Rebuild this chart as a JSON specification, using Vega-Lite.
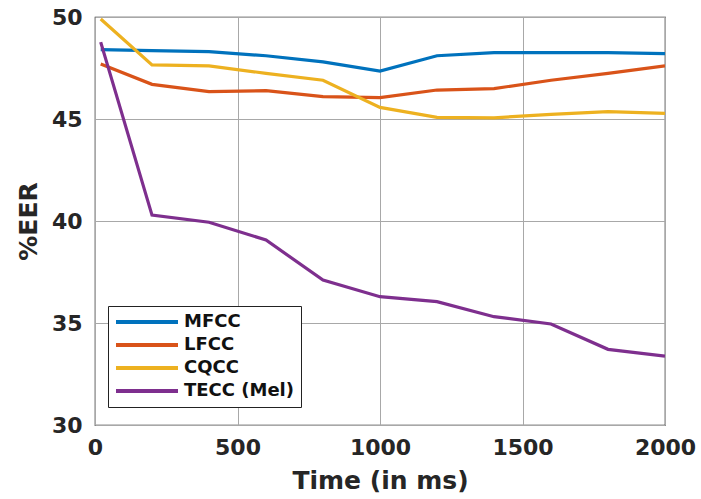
{
  "$schema": "https://vega.github.io/schema/vega-lite/v6.json",
  "autosize": "none",
  "width": 570,
  "height": 408,
  "padding": {"left": 95, "top": 17, "right": 36, "bottom": 74},
  "background": "white",
  "config": {
    "font": "DejaVu Sans",
    "view": {"stroke": "#222222", "strokeWidth": 1.2}
  },
  "data": {
    "values": [
      {"t": 20, "s": "MFCC", "eer": 48.4},
      {"t": 200, "s": "MFCC", "eer": 48.35},
      {"t": 400, "s": "MFCC", "eer": 48.3},
      {"t": 600, "s": "MFCC", "eer": 48.1},
      {"t": 800, "s": "MFCC", "eer": 47.8},
      {"t": 1000, "s": "MFCC", "eer": 47.35},
      {"t": 1200, "s": "MFCC", "eer": 48.1},
      {"t": 1400, "s": "MFCC", "eer": 48.25},
      {"t": 1600, "s": "MFCC", "eer": 48.25},
      {"t": 1800, "s": "MFCC", "eer": 48.25},
      {"t": 2000, "s": "MFCC", "eer": 48.2},
      {"t": 20, "s": "LFCC", "eer": 47.7},
      {"t": 200, "s": "LFCC", "eer": 46.7},
      {"t": 400, "s": "LFCC", "eer": 46.34},
      {"t": 600, "s": "LFCC", "eer": 46.39},
      {"t": 800, "s": "LFCC", "eer": 46.1},
      {"t": 1000, "s": "LFCC", "eer": 46.05},
      {"t": 1200, "s": "LFCC", "eer": 46.42},
      {"t": 1400, "s": "LFCC", "eer": 46.49},
      {"t": 1600, "s": "LFCC", "eer": 46.9},
      {"t": 1800, "s": "LFCC", "eer": 47.24},
      {"t": 2000, "s": "LFCC", "eer": 47.6},
      {"t": 20, "s": "CQCC", "eer": 49.9},
      {"t": 200, "s": "CQCC", "eer": 47.65},
      {"t": 400, "s": "CQCC", "eer": 47.6},
      {"t": 600, "s": "CQCC", "eer": 47.24},
      {"t": 800, "s": "CQCC", "eer": 46.9},
      {"t": 1000, "s": "CQCC", "eer": 45.57},
      {"t": 1200, "s": "CQCC", "eer": 45.08},
      {"t": 1400, "s": "CQCC", "eer": 45.06},
      {"t": 1600, "s": "CQCC", "eer": 45.23},
      {"t": 1800, "s": "CQCC", "eer": 45.36},
      {"t": 2000, "s": "CQCC", "eer": 45.28},
      {"t": 20, "s": "TECC (Mel)", "eer": 48.77},
      {"t": 200, "s": "TECC (Mel)", "eer": 40.29},
      {"t": 400, "s": "TECC (Mel)", "eer": 39.94},
      {"t": 600, "s": "TECC (Mel)", "eer": 39.07},
      {"t": 800, "s": "TECC (Mel)", "eer": 37.1},
      {"t": 1000, "s": "TECC (Mel)", "eer": 36.29},
      {"t": 1200, "s": "TECC (Mel)", "eer": 36.05},
      {"t": 1400, "s": "TECC (Mel)", "eer": 35.31},
      {"t": 1600, "s": "TECC (Mel)", "eer": 34.95},
      {"t": 1800, "s": "TECC (Mel)", "eer": 33.71},
      {"t": 2000, "s": "TECC (Mel)", "eer": 33.38}
    ]
  },
  "mark": {"type": "line", "strokeWidth": 3.2, "clip": true},
  "encoding": {
    "x": {
      "field": "t", "type": "quantitative",
      "scale": {"domain": [0, 2000], "nice": false},
      "axis": {
        "values": [0, 500, 1000, 1500, 2000],
        "format": "d",
        "labelFlush": false,
        "labelBound": false,
        "title": "Time (in ms)",
        "titleFontSize": 25, "titleFontWeight": "bold", "titleColor": "#262626", "titlePadding": 10,
        "labelFontSize": 22, "labelFontWeight": "bold", "labelColor": "#262626", "labelPadding": 12,
        "gridColor": "#a8a8a8", "gridWidth": 1, "ticks": false, "domain": false
      }
    },
    "y": {
      "field": "eer", "type": "quantitative",
      "scale": {"domain": [30, 50], "nice": false, "zero": false},
      "axis": {
        "values": [30, 35, 40, 45, 50],
        "labelFlush": false,
        "title": "%EER",
        "titleFontSize": 25, "titleFontWeight": "bold", "titleColor": "#262626", "titlePadding": 10,
        "labelFontSize": 22, "labelFontWeight": "bold", "labelColor": "#262626", "labelPadding": 13,
        "gridColor": "#a8a8a8", "gridWidth": 1, "ticks": false, "domain": false
      }
    },
    "color": {
      "field": "s", "type": "nominal",
      "sort": ["MFCC", "LFCC", "CQCC", "TECC (Mel)"],
      "scale": {
        "domain": ["MFCC", "LFCC", "CQCC", "TECC (Mel)"],
        "range": ["#0072BD", "#D95319", "#EDB120", "#7E2F8E"]
      },
      "legend": {
        "orient": "none",
        "legendX": 13,
        "legendY": 289,
        "title": null,
        "symbolType": "stroke",
        "symbolStrokeWidth": 4,
        "symbolSize": 3844,
        "clipHeight": 20,
        "labelFontSize": 18,
        "labelFontWeight": "bold",
        "labelColor": "#111111",
        "labelOffset": 4,
        "rowPadding": 3,
        "padding": 6,
        "strokeColor": "#222222",
        "fillColor": "white"
      }
    }
  }
}
